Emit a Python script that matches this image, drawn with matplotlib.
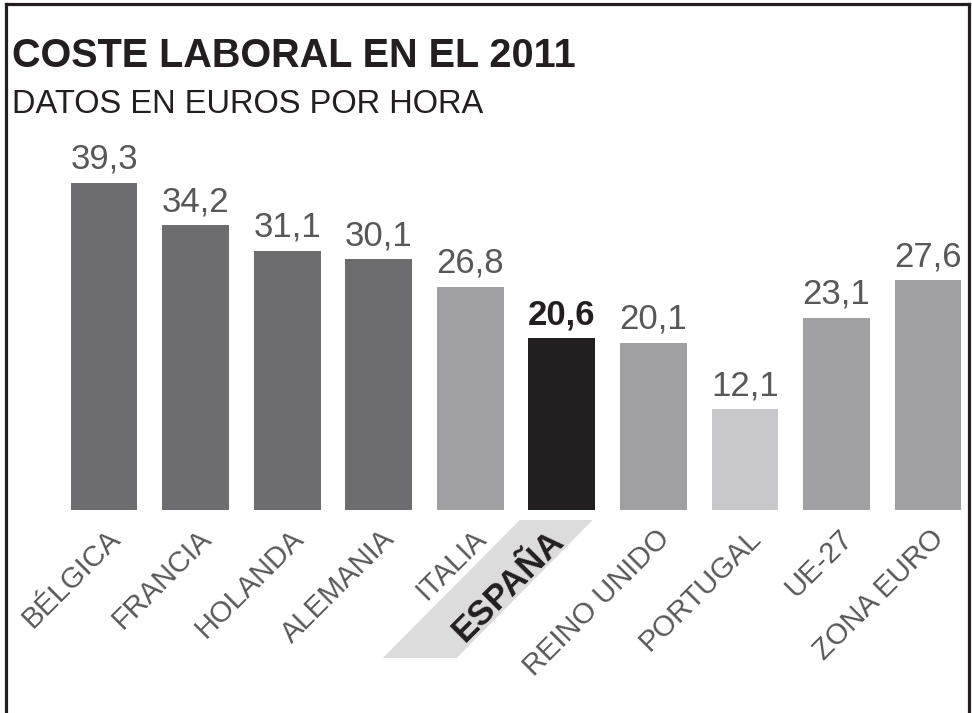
import matplotlib
matplotlib.use('Agg')
import matplotlib.pyplot as plt
from matplotlib.patches import Polygon
from matplotlib.lines import Line2D
from matplotlib.transforms import Affine2D

# ---------------- data ----------------
categories = ['BÉLGICA', 'FRANCIA', 'HOLANDA', 'ALEMANIA', 'ITALIA',
              'ESPAÑA', 'REINO UNIDO', 'PORTUGAL', 'UE-27', 'ZONA EURO']
values = [39.3, 34.2, 31.1, 30.1, 26.8, 20.6, 20.1, 12.1, 23.1, 27.6]
value_labels = ['39,3', '34,2', '31,1', '30,1', '26,8',
                '20,6', '20,1', '12,1', '23,1', '27,6']
bar_colors = ['#6d6d6f', '#6d6d6f', '#6d6d6f', '#6d6d6f', '#a0a0a2',
              '#231f20', '#a0a0a2', '#c8c8ca', '#a0a0a2', '#a0a0a2']
highlight = 'ESPAÑA'
title = 'COSTE LABORAL EN EL 2011'
subtitle = 'DATOS EN EUROS POR HORA'

plt.rcParams['font.family'] = ['Liberation Sans', 'DejaVu Sans']

W, H = 972, 713
fig = plt.figure(figsize=(W / 100, H / 100), dpi=100)
fig.patch.set_facecolor('white')

px_unit_x = 91.56
x0_px = 104
bottom_px = 510
px_per_val = 8.33

ax = fig.add_axes([0, (H - bottom_px) / H, 1, bottom_px / H])
ax.set_xlim(-x0_px / px_unit_x, (W - x0_px) / px_unit_x)
ax.set_ylim(0, bottom_px / px_per_val)
ax.axis('off')

xs = list(range(len(categories)))
ax.bar(xs, values, width=0.73, color=bar_colors, edgecolor='none', zorder=2)

label_gray = '#58585a'
dark = '#231f20'

for x, v, lab, cat in zip(xs, values, value_labels, categories):
    hl = (cat == highlight)
    ax.annotate(lab, (x, v), xytext=(0, 7), textcoords='offset pixels',
                ha='center', va='bottom', fontsize=25,
                fontweight='bold' if hl else 'normal',
                color=dark if hl else label_gray, zorder=4)

# category labels, rotated
for x, cat in zip(xs, categories):
    hl = (cat == highlight)
    ax.annotate(cat, (x, 0), xytext=(-15 if hl else 2, -14), textcoords='offset pixels',
                ha='right', va='top', rotation=45, rotation_mode='anchor',
                fontsize=25 if hl else 21,
                fontweight='bold' if hl else 'normal',
                color=dark if hl else label_gray, zorder=4,
                annotation_clip=False)

# light parallelogram behind the highlighted label
hi = categories.index(highlight)
cx, cy = ax.transData.transform((hi, 0))
verts = [(-42, -10), (31, -10), (-105, -148), (-179, -148)]
poly = Polygon(verts, closed=True, facecolor='#dcdcdc', edgecolor='none',
               transform=Affine2D().translate(cx, cy), zorder=1, clip_on=False)
ax.add_patch(poly)

# titles
fig.text(12 / W, 1 - 67 / H, title, fontsize=28.5, fontweight='bold',
         color=dark, va='baseline', ha='left')
fig.text(12 / W, 1 - 113 / H, subtitle, fontsize=23.5,
         color=dark, va='baseline', ha='left')

# frame (open at the bottom)
lw = 2.3
for xd, yd in [([5.5, 5.5], [H, 4]), ([5.5, 968.5], [4, 4]), ([968.5, 968.5], [4, H])]:
    fig.add_artist(Line2D([x / W for x in xd], [1 - y / H for y in yd],
                          transform=fig.transFigure, color=dark, lw=lw,
                          solid_capstyle='projecting'))

fig.savefig('out.png', dpi=100)
